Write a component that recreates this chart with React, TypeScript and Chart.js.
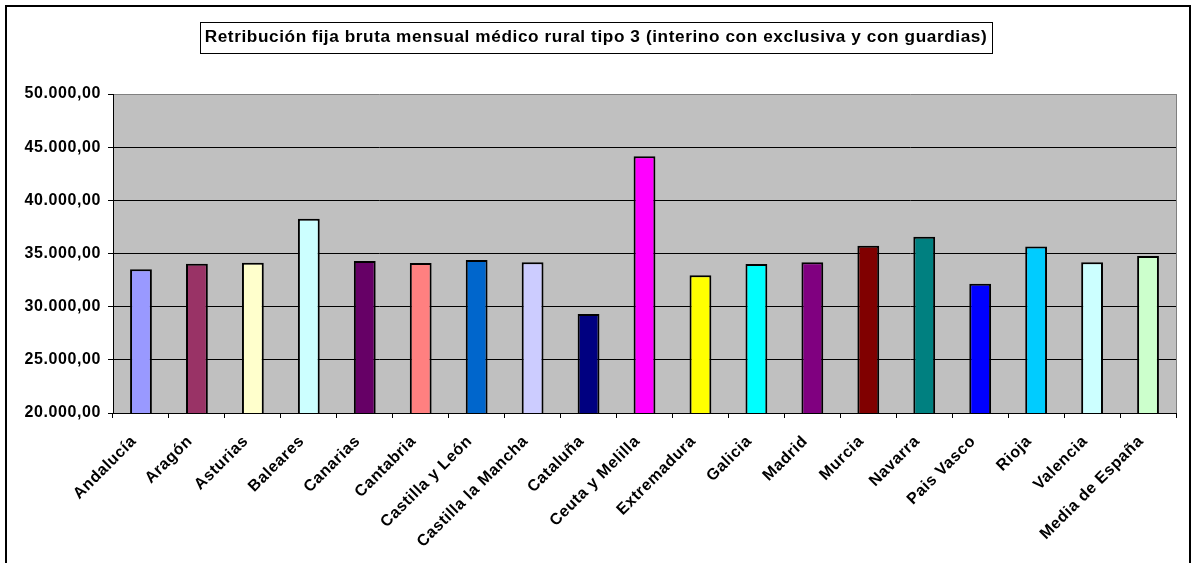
import React, { useEffect, useRef } from "react";
import { Chart, registerables } from "chart.js";

Chart.register(...registerables);

const TITLE = "Retribución fija bruta mensual médico rural tipo 3 (interino con exclusiva y con guardias)";

const categories = [
  "Andalucía",
  "Aragón",
  "Asturias",
  "Baleares",
  "Canarias",
  "Cantabria",
  "Castilla y León",
  "Castilla la Mancha",
  "Cataluña",
  "Ceuta y Melilla",
  "Extremadura",
  "Galicia",
  "Madrid",
  "Murcia",
  "Navarra",
  "Pais Vasco",
  "Rioja",
  "Valencia",
  "Media de España",
];

const values = [
  33510, 34040, 34140, 38270, 34300, 34110, 34390, 34170, 29310, 44140,
  32950, 34010, 34170, 35740, 36580, 32160, 35670, 34170, 34770,
];

const barColors = [
  "#9999FF",
  "#993366",
  "#FFFFCC",
  "#CCFFFF",
  "#660066",
  "#FF8080",
  "#0066CC",
  "#CCCCFF",
  "#000080",
  "#FF00FF",
  "#FFFF00",
  "#00FFFF",
  "#800080",
  "#800000",
  "#008080",
  "#0000FF",
  "#00CCFF",
  "#CCFFFF",
  "#CCFFCC",
];

const yMin = 20000;
const yMax = 50000;
const yStep = 5000;

const FONT_FAMILY = '"Liberation Sans", Arial, sans-serif';
const LETTER_SPACING = "0.6px";
const TITLE_SIZE = 17.2;

function formatEs(v: number): string {
  const int = Math.round(v).toString().replace(/\B(?=(\d{3})+(?!\d))/g, ".");
  return int + ",00";
}

const excelPlugin = {
  id: "excelLook",
  beforeLayout(chart: any) {
    chart.ctx.letterSpacing = LETTER_SPACING;
  },
  afterLayout(chart: any) {
    const tb = chart.titleBlock;
    if (tb) {
      tb.left = 0;
      tb.right = chart.width + 1;
    }
  },
  beforeDraw(chart: any) {
    const ctx = chart.ctx;
    ctx.letterSpacing = LETTER_SPACING;
    const { left, top, width, height } = chart.chartArea;
    ctx.save();
    ctx.fillStyle = "#C0C0C0";
    ctx.fillRect(left, top, width, height);
    ctx.restore();
  },
  beforeDatasetsDraw(chart: any) {
    const ctx = chart.ctx;
    const { right, top, bottom } = chart.chartArea;
    ctx.save();
    ctx.strokeStyle = "#808080";
    ctx.lineWidth = 1;
    ctx.beginPath();
    ctx.moveTo(right + 0.5, top);
    ctx.lineTo(right + 0.5, bottom);
    ctx.stroke();
    ctx.restore();
  },
  afterDraw(chart: any) {
    const ctx = chart.ctx;
    const tb = chart.titleBlock;
    if (!tb) return;
    ctx.save();
    ctx.letterSpacing = LETTER_SPACING;
    ctx.font = "bold " + TITLE_SIZE + "px " + FONT_FAMILY;
    const w = ctx.measureText(TITLE).width;
    const cx = (tb.left + tb.right) / 2;
    const mid = tb.top + 27 + (TITLE_SIZE * 1.2) / 2;
    ctx.strokeStyle = "#000";
    ctx.lineWidth = 1;
    ctx.strokeRect(Math.round(cx - w / 2 - 5) + 0.5, Math.round(mid - 15.5) + 0.5, Math.round(w + 9), 31);
    ctx.restore();
  },
};

export default function App() {
  const canvasRef = useRef<HTMLCanvasElement | null>(null);

  useEffect(() => {
    if (!canvasRef.current) return;
    const chart = new Chart(canvasRef.current, {
      type: "bar",
      data: {
        labels: categories,
        datasets: [
          {
            data: values,
            backgroundColor: barColors,
            borderColor: "#000000",
            borderWidth: 2,
            barPercentage: 0.39,
            categoryPercentage: 1,
          },
        ],
      },
      options: {
        responsive: false,
        animation: false,
        devicePixelRatio: 1,
        layout: { padding: { left: 0, right: 15, top: 0, bottom: 0 } },
        plugins: {
          legend: { display: false },
          tooltip: { enabled: false },
          title: {
            display: true,
            text: TITLE,
            color: "#000",
            font: { family: FONT_FAMILY, size: TITLE_SIZE, weight: "bold", lineHeight: 1.2 },
            padding: { top: 27, bottom: 46.4 },
          },
        },
        scales: {
          x: {
            afterFit(scale: any) {
              scale.height = 150;
            },
            grid: {
              display: true,
              drawOnChartArea: false,
              drawTicks: true,
              tickLength: 5,
              tickColor: "#000",
              offset: true,
            },
            border: { display: true, color: "#000", width: 1 },
            ticks: {
              autoSkip: false,
              minRotation: 45,
              maxRotation: 45,
              padding: 14,
              labelOffset: -7,
              color: "#000",
              font: { family: FONT_FAMILY, size: 16, weight: "bold" },
            },
          },
          y: {
            min: yMin,
            max: yMax,
            afterFit(scale: any) {
              scale.width = 113;
            },
            ticks: {
              stepSize: yStep,
              padding: 7,
              color: "#000",
              font: { family: FONT_FAMILY, size: 16, weight: "bold" },
              callback: (v: any) => formatEs(Number(v)),
            },
            grid: {
              color: (c: any) => (c.tick && c.tick.value === yMax ? "#808080" : "#000"),
              lineWidth: 1,
              drawTicks: true,
              tickLength: 5,
              tickColor: "#000",
            },
            border: { display: true, color: "#000", width: 1 },
          },
        },
      },
      plugins: [excelPlugin],
    } as any);
    return () => chart.destroy();
  }, []);

  return (
    <div
      style={{
        position: "absolute",
        left: 0,
        top: 0,
        width: 1191,
        height: 563,
        overflow: "hidden",
        background: "#fff",
      }}
    >
      <canvas ref={canvasRef} width={1191} height={563} style={{ display: "block" }} />
      <div
        style={{
          position: "absolute",
          left: 5,
          top: 5,
          width: 1186,
          height: 620,
          border: "2px solid #000",
          boxSizing: "border-box",
          pointerEvents: "none",
        }}
      />
    </div>
  );
}
